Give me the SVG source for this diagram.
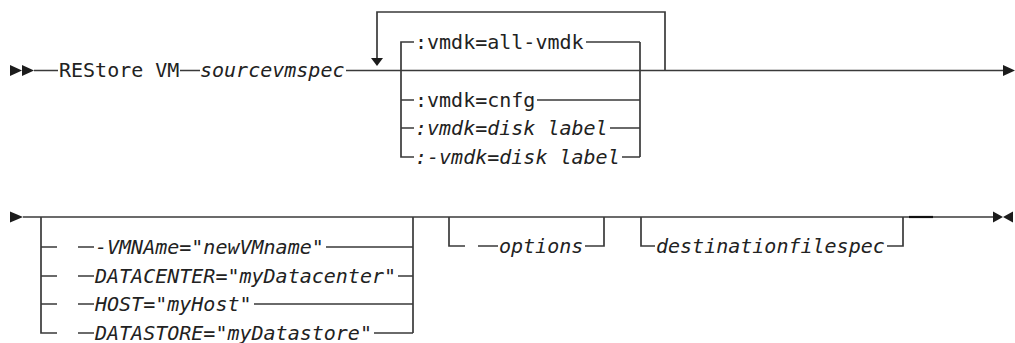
<svg xmlns="http://www.w3.org/2000/svg" width="1015" height="343" viewBox="0 0 1015 343">
<style>
text{font-family:"DejaVu Sans Mono","Liberation Mono",monospace;font-size:20px;fill:#222}
.it{font-style:italic}
.ln{stroke:#3a3a3a;stroke-width:1.7;fill:none}
.ah{fill:#1c1c1c}
</style>
<rect width="1015" height="343" fill="#fff"/>
<g id="connectors">
  <!-- row 1 -->
  <polygon class="ah" points="10,65 22,70.5 10,76"/>
  <polygon class="ah" points="22,65 34,70.5 22,76"/>
  <path class="ln" d="M34,70.5H58 M180,70.5H200 M346,70.5H1003"/>
  <polygon class="ah" points="1003,65 1015,70.5 1003,76"/>
  <!-- repeat loop -->
  <path class="ln" d="M665,70.5V12H377V58"/>
  <polygon class="ah" points="371,58 383,58 377,66"/>
  <!-- vmdk choice -->
  <path class="ln" d="M414,42H401V157H414 M640,42V157 M586,42H640 M537,100H640 M401,100H414 M401,128H414 M610,128H640 M622,157H640"/>
  <!-- row 2 -->
  <polygon class="ah" points="10,211.5 23,217 10,222.5"/>
  <path class="ln" d="M23,217H993"/>
  <path d="M909,217H933" stroke="#111" stroke-width="2.2"/>
  <polygon class="ah" points="993,211.5 1003,217 993,222.5"/>
  <polygon class="ah" points="1013,211.5 1003,217 1013,222.5"/>
  <!-- VM option choice -->
  <path class="ln" d="M41,217V333H57 M41,247H57 M41,276H57 M41,304H57 M78,247H94 M78,276H94 M78,304H94 M78,333H94 M413,217V333 M326,247H413 M398,276H413 M254,304H413 M374,333H413"/>
  <!-- options -->
  <path class="ln" d="M449,217V246H465 M478,246H498 M585,246H604V217"/>
  <!-- destination -->
  <path class="ln" d="M641,217V246H655 M887,246H903V217"/>
</g>
<g id="n-restore"><text x="59" y="77">REStore VM</text></g>
<g id="n-source"><text class="it" x="200" y="77">sourcevmspec</text></g>
<g id="n-all"><text x="415" y="48.8">:vmdk=all-vmdk</text></g>
<g id="n-cnfg"><text x="415" y="106.8">:vmdk=cnfg</text></g>
<g id="n-disk"><text class="it" x="415" y="134.8">:vmdk=disk label</text></g>
<g id="n-nodisk"><text class="it" x="415" y="163.8">:-vmdk=disk label</text></g>
<g id="n-vmname"><text class="it" x="95" y="254">-VMNAme="newVMname"</text></g>
<g id="n-datacenter"><text class="it" x="95" y="283">DATACENTER="myDatacenter"</text></g>
<g id="n-host"><text class="it" x="95" y="311">HOST="myHost"</text></g>
<g id="n-datastore"><text class="it" x="95" y="340">DATASTORE="myDatastore"</text></g>
<g id="n-options"><text class="it" x="499" y="253">options</text></g>
<g id="n-dest"><text class="it" x="656" y="253">destinationfilespec</text></g>
</svg>
